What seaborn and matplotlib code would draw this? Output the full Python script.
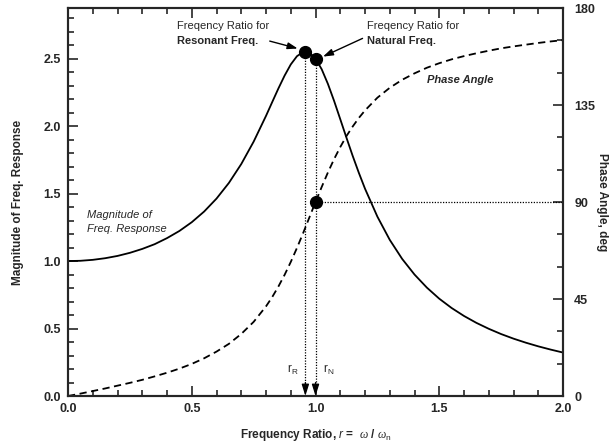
import matplotlib
matplotlib.use("Agg")
import matplotlib.pyplot as plt
import seaborn as sns
import pandas as pd
from matplotlib.ticker import MultipleLocator

# ---- data ----
freq_ratio = [0.0, 0.05, 0.1, 0.15, 0.2, 0.25, 0.3, 0.35, 0.4, 0.45, 0.5, 0.55, 0.6, 0.65,
              0.7, 0.75, 0.8, 0.825, 0.85, 0.875, 0.9, 0.925, 0.95, 0.975, 1.0, 1.025,
              1.05, 1.075, 1.1, 1.125, 1.15, 1.175, 1.2, 1.25, 1.3, 1.35, 1.4, 1.45, 1.5,
              1.55, 1.6, 1.65, 1.7, 1.75, 1.8, 1.85, 1.9, 1.95, 2.0]
magnitude = [1.000, 1.002, 1.009, 1.021, 1.038, 1.061, 1.090, 1.125, 1.170, 1.223, 1.288,
             1.367, 1.463, 1.579, 1.719, 1.885, 2.076, 2.178, 2.279, 2.374, 2.457, 2.518,
             2.549, 2.544, 2.500, 2.421, 2.313, 2.187, 2.051, 1.914, 1.780, 1.654, 1.536,
             1.329, 1.157, 1.016, 0.900, 0.803, 0.721, 0.652, 0.593, 0.542, 0.498, 0.459,
             0.425, 0.395, 0.368, 0.344, 0.322]
phase_deg = [0.0, 1.1, 2.3, 3.5, 4.8, 6.1, 7.5, 9.1, 10.8, 12.7, 14.9, 17.5, 20.6, 24.2,
             28.8, 34.4, 41.6, 45.9, 50.8, 56.2, 62.2, 68.7, 75.6, 82.8, 90.0, 97.0,
             103.7, 109.9, 115.5, 120.6, 125.0, 129.0, 132.5, 138.4, 143.0, 146.7, 149.7,
             152.3, 154.4, 156.2, 157.7, 159.0, 160.2, 161.3, 162.2, 163.0, 163.8, 164.5,
             165.1]

resonant_ratio = 0.959
resonant_mag = 2.551
natural_ratio = 1.0
natural_mag = 2.5
natural_phase = 90.0

x_ticks = [0.0, 0.5, 1.0, 1.5, 2.0]
y_ticks = [0.0, 0.5, 1.0, 1.5, 2.0, 2.5]
phase_ticks = [0, 45, 90, 135, 180]

df = pd.DataFrame({"r": freq_ratio, "mag": magnitude, "phase": phase_deg})

# ---- figure ----
sns.set_style("ticks")
plt.rcParams["font.family"] = ["Liberation Sans", "DejaVu Sans"]
plt.rcParams["mathtext.fontset"] = "custom"
plt.rcParams["mathtext.rm"] = "Liberation Sans"
plt.rcParams["mathtext.it"] = "Liberation Sans:italic"
plt.rcParams["mathtext.bf"] = "Liberation Sans:bold"
plt.rcParams["mathtext.sf"] = "Liberation Serif:italic"

fig = plt.figure(figsize=(6.09, 4.46), dpi=100)
ax = fig.add_axes([0.1117, 0.1121, 0.8128, 0.8699])
ax2 = ax.twinx()

sns.lineplot(data=df, x="r", y="mag", ax=ax, color="black", lw=1.3)
sns.lineplot(data=df, x="r", y="phase", ax=ax2, color="black", lw=1.3)
ax2.lines[0].set_dashes([4, 2.5])

ax.set_xlim(0, 2.0)
ax.set_ylim(0, 2.875)
ax2.set_ylim(0, 180)

# markers
ax.plot([resonant_ratio], [resonant_mag], "o", color="black", ms=8.5, zorder=5)
ax.plot([natural_ratio], [natural_mag], "o", color="black", ms=8.5, zorder=5)
ax2.plot([natural_ratio], [natural_phase], "o", color="black", ms=8.5, zorder=5)

# dotted drop lines with arrowheads
for xr, ym in [(resonant_ratio, resonant_mag), (natural_ratio, natural_mag)]:
    ax.plot([xr, xr], [ym, 0.08], ls=(0, (1, 1.2)), color="black", lw=0.9)
    ax.annotate("", xy=(xr, 0.0), xytext=(xr, 0.1),
                arrowprops=dict(arrowstyle="-|>,head_length=0.7,head_width=0.22",
                                color="black", lw=0.9, shrinkA=0, shrinkB=0))
ax2.plot([natural_ratio, 2.0], [natural_phase, natural_phase], ls=(0, (1, 1.2)),
         color="black", lw=0.9)

# ticks
bold = dict(fontweight="bold", fontsize=9)
ax.set_xticks(x_ticks)
ax.set_xticklabels([f"{v:.1f}" for v in x_ticks], **bold)
ax.set_yticks(y_ticks)
ax.set_yticklabels([f"{v:.1f}" for v in y_ticks], **bold)
ax2.set_yticks(phase_ticks)
ax2.set_yticklabels([str(v) for v in phase_ticks], **bold)
ax.xaxis.set_minor_locator(MultipleLocator(0.1))
ax.yaxis.set_minor_locator(MultipleLocator(0.1))
ax2.yaxis.set_minor_locator(MultipleLocator(15))
ax.tick_params(axis="x", which="both", direction="in", top=True, bottom=True, width=1.2)
ax.tick_params(axis="y", which="both", direction="in", left=True, right=False, width=1.2)
ax.tick_params(which="major", length=7, pad=5)
ax.tick_params(which="minor", length=4)
ax2.tick_params(axis="y", which="both", direction="in", width=1.2, pad=8)
ax2.tick_params(which="major", length=7)
ax2.tick_params(which="minor", length=4)

for a in (ax, ax2):
    for s in a.spines.values():
        s.set_linewidth(1.5)
        s.set_visible(True)

ax.set_xlabel(r"Frequency Ratio, $r$ =  $\mathsf{\omega}$ / $\mathsf{\omega}_{\mathrm{n}}$",
              fontweight="bold", fontsize=8.5, labelpad=9)
ax.set_ylabel("Magnitude of Freq. Response", fontweight="bold", fontsize=8.5, labelpad=14)
ax2.set_ylabel("Phase Angle, deg", fontweight="bold", fontsize=8.5, rotation=270, labelpad=9)

# annotations
ax.text(0.44, 2.745, "Freqency Ratio for", fontsize=8, va="center")
ax.text(0.44, 2.63, "Resonant Freq.", fontsize=8, fontweight="bold", va="center")
ax.annotate("", xy=(0.928, 2.575), xytext=(0.815, 2.63),
            arrowprops=dict(arrowstyle="-|>,head_length=0.6,head_width=0.2",
                            color="black", lw=1.0, shrinkA=0, shrinkB=0))
ax.text(1.208, 2.745, "Freqency Ratio for", fontsize=8, va="center")
ax.text(1.208, 2.63, "Natural Freq.", fontsize=8, fontweight="bold", va="center")
ax.annotate("", xy=(1.03, 2.515), xytext=(1.19, 2.65),
            arrowprops=dict(arrowstyle="-|>,head_length=0.6,head_width=0.2",
                            color="black", lw=1.0, shrinkA=0, shrinkB=0))
ax.text(1.45, 2.34, "Phase Angle", fontsize=8, fontweight="bold", style="italic", va="center")
ax.text(0.077, 1.34, "Magnitude of", fontsize=8, style="italic", va="center")
ax.text(0.077, 1.24, "Freq. Response", fontsize=8, style="italic", va="center")
ax.text(0.885, 0.19, r"r$_\mathrm{R}$", fontsize=8.5, va="center")
ax.text(1.03, 0.19, r"r$_\mathrm{N}$", fontsize=8.5, va="center")

fig.savefig("out.png", dpi=100)
